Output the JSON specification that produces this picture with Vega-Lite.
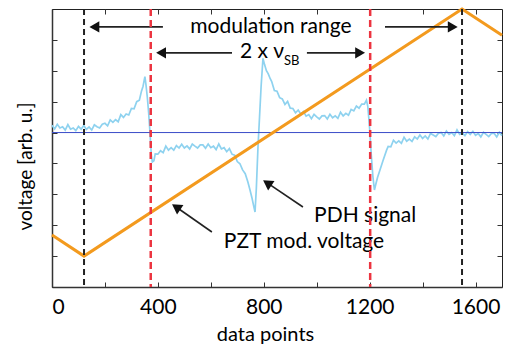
{
  "$schema": "https://vega.github.io/schema/vega-lite/v6.json",
  "width": 450,
  "height": 278,
  "autosize": "none",
  "padding": {"left": 52, "top": 9, "right": 4, "bottom": 60},
  "config": {
    "view": {"stroke": "#222", "strokeWidth": 1},
    "font": "Lato",
    "axis": {"grid": false, "labelFont": "Lato", "titleFont": "Lato", "labelColor": "#000", "titleColor": "#000", "titleFontWeight": "normal", "domainColor": "#333", "tickColor": "#333"}
  },
  "datasets": {
    "pdh": [
      {"x":0,"v":5.24},{"x":10,"v":5.12},{"x":20,"v":5.27},{"x":30,"v":5.15},{"x":40,"v":5.19},{"x":50,"v":5.08},{"x":60,"v":5.26},{"x":70,"v":5.11},{"x":80,"v":5.15},{"x":90,"v":5.06},
      {"x":100,"v":5.2},{"x":110,"v":5.11},{"x":120,"v":5.23},{"x":130,"v":5.1},{"x":140,"v":5.18},{"x":150,"v":5.08},{"x":160,"v":5.25},{"x":170,"v":5.19},{"x":180,"v":5.15},{"x":190,"v":5.27},
      {"x":200,"v":5.3},{"x":210,"v":5.22},{"x":220,"v":5.41},{"x":230,"v":5.33},{"x":240,"v":5.42},{"x":250,"v":5.35},{"x":260,"v":5.58},{"x":270,"v":5.49},{"x":280,"v":5.6},{"x":290,"v":5.57},
      {"x":300,"v":5.78},{"x":310,"v":5.77},{"x":320,"v":6.0},{"x":330,"v":6.05},{"x":338,"v":6.34},{"x":344,"v":6.5},{"x":348,"v":6.68},{"x":351,"v":6.81},{"x":355,"v":6.55},{"x":360,"v":6.15},
      {"x":365,"v":5.65},{"x":370,"v":5.02},{"x":375,"v":4.3},{"x":379,"v":4.05},{"x":385,"v":4.09},{"x":390,"v":4.31},{"x":400,"v":4.3},{"x":410,"v":4.41},{"x":420,"v":4.35},{"x":430,"v":4.56},
      {"x":440,"v":4.43},{"x":450,"v":4.51},{"x":460,"v":4.43},{"x":470,"v":4.58},{"x":480,"v":4.5},{"x":490,"v":4.62},{"x":500,"v":4.5},{"x":510,"v":4.57},{"x":520,"v":4.47},{"x":530,"v":4.63},
      {"x":540,"v":4.56},{"x":550,"v":4.5},{"x":560,"v":4.6},{"x":570,"v":4.6},{"x":580,"v":4.49},{"x":590,"v":4.63},{"x":600,"v":4.51},{"x":610,"v":4.56},{"x":620,"v":4.45},{"x":630,"v":4.63},
      {"x":640,"v":4.47},{"x":650,"v":4.51},{"x":660,"v":4.38},{"x":670,"v":4.48},{"x":680,"v":4.3},{"x":690,"v":4.27},{"x":700,"v":4.06},{"x":710,"v":3.99},{"x":720,"v":3.79},{"x":730,"v":3.67},
      {"x":740,"v":3.4},{"x":748,"v":3.14},{"x":755,"v":2.9},{"x":762,"v":2.62},{"x":767,"v":2.43},{"x":772,"v":3.2},{"x":778,"v":4.5},{"x":784,"v":5.5},{"x":790,"v":6.5},{"x":797,"v":7.4},
      {"x":803,"v":7.2},{"x":810,"v":7.0},{"x":817,"v":6.9},{"x":824,"v":6.75},{"x":830,"v":6.65},{"x":840,"v":6.36},{"x":850,"v":6.34},{"x":860,"v":6.13},{"x":870,"v":6.09},{"x":880,"v":5.91},
      {"x":890,"v":6.01},{"x":900,"v":5.79},{"x":910,"v":5.78},{"x":920,"v":5.64},{"x":930,"v":5.73},{"x":940,"v":5.6},{"x":950,"v":5.68},{"x":960,"v":5.53},{"x":970,"v":5.58},{"x":980,"v":5.45},
      {"x":990,"v":5.59},{"x":1000,"v":5.51},{"x":1010,"v":5.44},{"x":1020,"v":5.54},{"x":1030,"v":5.55},{"x":1040,"v":5.44},{"x":1050,"v":5.59},{"x":1060,"v":5.48},{"x":1070,"v":5.54},{"x":1080,"v":5.46},
      {"x":1090,"v":5.66},{"x":1100,"v":5.54},{"x":1110,"v":5.62},{"x":1120,"v":5.56},{"x":1130,"v":5.75},{"x":1140,"v":5.7},{"x":1150,"v":5.86},{"x":1160,"v":5.79},{"x":1170,"v":5.92},{"x":1180,"v":5.92},
      {"x":1188,"v":6.05},{"x":1193,"v":5.85},{"x":1197,"v":5.45},{"x":1201,"v":5.0},{"x":1206,"v":4.3},{"x":1212,"v":3.6},{"x":1218,"v":3.14},{"x":1224,"v":3.35},{"x":1230,"v":3.55},{"x":1239,"v":3.79},
      {"x":1250,"v":4.08},{"x":1264,"v":4.43},{"x":1270,"v":4.55},{"x":1280,"v":4.54},{"x":1290,"v":4.75},{"x":1300,"v":4.66},{"x":1310,"v":4.73},{"x":1320,"v":4.65},{"x":1330,"v":4.85},{"x":1340,"v":4.72},
      {"x":1350,"v":4.79},{"x":1360,"v":4.71},{"x":1370,"v":4.86},{"x":1380,"v":4.79},{"x":1390,"v":4.92},{"x":1400,"v":4.81},{"x":1410,"v":4.89},{"x":1420,"v":4.79},{"x":1430,"v":4.97},{"x":1440,"v":4.92},
      {"x":1450,"v":4.87},{"x":1460,"v":4.98},{"x":1470,"v":5.0},{"x":1480,"v":4.89},{"x":1490,"v":5.05},{"x":1500,"v":4.94},{"x":1510,"v":5.0},{"x":1520,"v":4.9},{"x":1530,"v":5.09},{"x":1540,"v":4.94},
      {"x":1550,"v":4.99},{"x":1560,"v":4.9},{"x":1570,"v":5.03},{"x":1580,"v":4.94},{"x":1590,"v":5.04},{"x":1600,"v":4.91},{"x":1610,"v":4.97},{"x":1620,"v":4.86},{"x":1630,"v":5.01},{"x":1640,"v":4.94},
      {"x":1650,"v":4.87},{"x":1660,"v":4.97},{"x":1670,"v":4.98},{"x":1680,"v":4.86},{"x":1690,"v":5.01},{"x":1700,"v":4.9}
    ],
    "pzt": [
      {"x":0,"v":1.68},{"x":121,"v":1.0},{"x":1549,"v":9.0},{"x":1700,"v":8.15}
    ],
    "blackLines": [{"x":121},{"x":1549}],
    "redLines": [{"x":373},{"x":1202}],
    "hShafts": [
      {"x":419,"x2":160,"y":8.42},
      {"x":1258,"x2":1514,"y":8.42},
      {"x":680,"x2":412,"y":7.58},
      {"x":963,"x2":1164,"y":7.58}
    ],
    "hHeads": [
      {"x":160,"y":8.42,"dir":"left"},
      {"x":1514,"y":8.42,"dir":"right"},
      {"x":412,"y":7.58,"dir":"left"},
      {"x":1164,"y":7.58,"dir":"right"}
    ],
    "dShafts": [
      {"x":948,"y":2.59,"x2":813,"y2":3.37},
      {"x":604,"y":1.78,"x2":469,"y2":2.59}
    ],
    "dHeads": [
      {"x":813,"y":3.37},
      {"x":469,"y":2.59}
    ],
    "labels": [
      {"x":827,"y":8.22,"t":"modulation range"},
      {"x":1183,"y":2.1,"t":"PDH signal"},
      {"x":952,"y":1.26,"t":"PZT mod. voltage"}
    ],
    "nuLabel": [{"x":710,"y":7.41,"t":"2 x ν"}],
    "subLabel": [{"x":876,"y":7.19,"t":"SB"}]
  },
  "resolve": {"axis": {"x": "independent", "y": "independent"}},
  "layer": [
    {
      "data": {"name": "pdh"},
      "mark": {"type": "line", "color": "#8ed2ef", "strokeWidth": 1.7},
      "encoding": {
        "x": {"field": "x", "type": "quantitative", "scale": {"domain": [0, 1700], "nice": false, "zero": false},
          "axis": {"orient": "bottom", "values": [0,200,400,600,800,1000,1200,1400,1600], "labelExpr": "datum.value % 400 === 0 ? datum.label : ''", "format": "d", "tickSize": -5, "labelPadding": 14, "labelFontSize": 21, "title": "data points", "titleFontSize": 20, "titleX": 213, "titleY": 47, "titleBaseline": "middle", "domainWidth": 1.5}},
        "y": {"field": "v", "type": "quantitative", "scale": {"domain": [0, 9], "nice": false, "zero": false},
          "axis": {"orient": "left", "values": [1,2,3,4,5,6,7,8], "labels": false, "tickSize": -5, "title": "voltage [arb. u.]", "titleFontSize": 19, "titleX": -27, "titleY": 157, "titleBaseline": "middle", "titleAngle": -90, "domainWidth": 1.5}}
      }
    },
    {
      "data": {"values": [{"y": 5}]},
      "mark": {"type": "rule", "color": "#3a4cc8", "strokeWidth": 1},
      "encoding": {"y": {"field": "y", "type": "quantitative", "axis": null}}
    },
    {
      "data": {"name": "pzt"},
      "mark": {"type": "line", "color": "#f39a1e", "strokeWidth": 3},
      "encoding": {
        "x": {"field": "x", "type": "quantitative", "axis": {"orient": "top", "values": [0,200,400,600,800,1000,1200,1400,1600], "labels": false, "tickSize": -5, "title": null, "domain": false}},
        "y": {"field": "v", "type": "quantitative", "axis": {"orient": "right", "values": [1,2,3,4,5,6,7,8], "labels": false, "tickSize": -5, "title": null, "domain": false}}
      }
    },
    {
      "data": {"name": "hShafts"},
      "mark": {"type": "rule", "color": "#222", "strokeWidth": 1.6},
      "encoding": {
        "x": {"field": "x", "type": "quantitative", "axis": null},
        "x2": {"field": "x2"},
        "y": {"field": "y", "type": "quantitative", "axis": null}
      }
    },
    {
      "data": {"name": "hHeads"},
      "mark": {"type": "point", "filled": true, "color": "#111", "opacity": 1, "size": 130},
      "encoding": {
        "x": {"field": "x", "type": "quantitative", "axis": null},
        "y": {"field": "y", "type": "quantitative", "axis": null},
        "shape": {"field": "dir", "type": "nominal", "scale": {"domain": ["left", "right"], "range": ["triangle-left", "triangle-right"]}, "legend": null}
      }
    },
    {
      "data": {"name": "dShafts"},
      "mark": {"type": "rule", "color": "#222", "strokeWidth": 1.6},
      "encoding": {
        "x": {"field": "x", "type": "quantitative", "axis": null},
        "x2": {"field": "x2"},
        "y": {"field": "y", "type": "quantitative", "axis": null},
        "y2": {"field": "y2"}
      }
    },
    {
      "data": {"name": "dHeads"},
      "mark": {"type": "point", "filled": true, "color": "#111", "opacity": 1, "size": 130, "shape": "triangle-up", "angle": 304},
      "encoding": {
        "x": {"field": "x", "type": "quantitative", "axis": null},
        "y": {"field": "y", "type": "quantitative", "axis": null}
      }
    },
    {
      "data": {"name": "labels"},
      "mark": {"type": "text", "font": "Lato", "fontSize": 21, "color": "#000", "align": "center", "baseline": "alphabetic"},
      "encoding": {
        "x": {"field": "x", "type": "quantitative", "axis": null},
        "y": {"field": "y", "type": "quantitative", "axis": null},
        "text": {"field": "t"}
      }
    },
    {
      "data": {"name": "nuLabel"},
      "mark": {"type": "text", "font": "Lato", "fontSize": 21, "color": "#000", "align": "left", "baseline": "alphabetic"},
      "encoding": {
        "x": {"field": "x", "type": "quantitative", "axis": null},
        "y": {"field": "y", "type": "quantitative", "axis": null},
        "text": {"field": "t"}
      }
    },
    {
      "data": {"name": "subLabel"},
      "mark": {"type": "text", "font": "Lato", "fontSize": 13, "color": "#000", "align": "left", "baseline": "alphabetic"},
      "encoding": {
        "x": {"field": "x", "type": "quantitative", "axis": null},
        "y": {"field": "y", "type": "quantitative", "axis": null},
        "text": {"field": "t"}
      }
    },
    {
      "data": {"name": "blackLines"},
      "mark": {"type": "rule", "color": "#222", "strokeWidth": 2, "strokeDash": [6, 4]},
      "encoding": {"x": {"field": "x", "type": "quantitative", "axis": null}}
    },
    {
      "data": {"name": "redLines"},
      "mark": {"type": "rule", "color": "#ec3440", "strokeWidth": 2.5, "strokeDash": [7, 4]},
      "encoding": {"x": {"field": "x", "type": "quantitative", "axis": null}}
    }
  ]
}
